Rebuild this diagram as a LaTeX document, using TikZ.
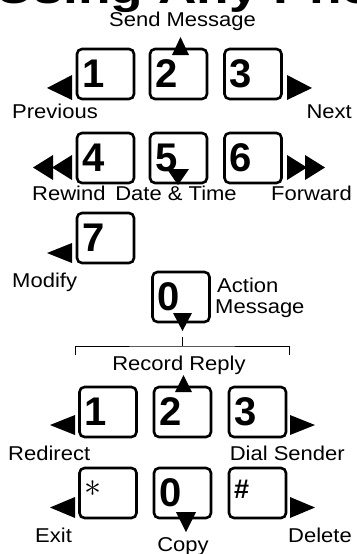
\documentclass[tikz,border=0pt]{standalone}
\usepackage{fontspec}
\setmainfont{Liberation Sans}
\begin{document}
\begin{tikzpicture}[x=1pt,y=-1pt,
	key/.style={draw, line width=2.6pt, rounded corners=5pt, minimum width=57pt, minimum height=50pt,
		inner xsep=5pt, inner ysep=0pt, text width=47pt, align=left, font=\fontsize{40}{40}\selectfont\bfseries},
	lbl/.style={inner sep=0pt, font=\fontsize{20}{22}\selectfont, xscale=1.1},
	tri/.style={fill=black}]
	\useasboundingbox (0,0) rectangle (356,554);
	\clip (0,0) rectangle (356,554);
	
	\node [anchor=base west, inner sep=0pt, font=\fontsize{43}{43}\selectfont\bfseries, xscale=1.24] (title) at (-5,3) {Using Any Phone};
	
	% upper keypad
	\node [key] (k1) at (105.5,74) {1};
	\node [key] (k2) at (178.5,74) {2};
	\node [key] (k3) at (253,74) {3};
	\node [key] (k4) at (105.5,158) {4};
	\node [key] (k5) at (178.5,158) {5};
	\node [key] (k6) at (253,158) {6};
	\node [key] (k7) at (105.5,238) {7};
	\node [key] (k0) at (181,297) {0};
	
	\fill [tri] (47,88) -- (72,75) -- (72,100) -- cycle;
	\fill [tri] (312,88) -- (287,75) -- (287,100) -- cycle;
	\fill [tri] (180.5,37) -- (172,55) -- (189,55) -- cycle;
	\fill [tri] (33,167.5) -- (53,155) -- (53,180) -- cycle;
	\fill [tri] (52,167.5) -- (72,155) -- (72,180) -- cycle;
	\fill [tri] (307,167.5) -- (287,155) -- (287,180) -- cycle;
	\fill [tri] (325,167.5) -- (305,155) -- (305,180) -- cycle;
	\fill [tri] (167,169) -- (189,169) -- (178,185) -- cycle;
	\fill [tri] (47,253) -- (72,243) -- (72,263) -- cycle;
	\fill [tri] (173,313) -- (192,313) -- (182.5,331) -- cycle;
	
	\node [lbl, anchor=base] (send) at (182.5,27) {Send Message};
	\node [lbl, anchor=base west] (prev) at (12,118) {Previous};
	\node [lbl, anchor=base east] (next) at (352,118) {Next};
	\node [lbl, anchor=base west] (rew) at (32,200) {Rewind};
	\node [lbl, anchor=base] (date) at (176,200) {Date \& Time};
	\node [lbl, anchor=base east] (fwd) at (352,200) {Forward};
	\node [lbl, anchor=base west] (mod) at (12,287) {Modify};
	\node [lbl, anchor=base west] (act) at (217,292) {Action};
	\node [lbl, anchor=base west] (actmsg) at (215,313) {Message};
	
	% bracket
	\coordinate (tip) at (182,337);
	\coordinate (mid) at (182,346);
	\coordinate (bl) at (75,355);
	\coordinate (br) at (289,355);
	\draw [line width=1pt] (bl) |- (mid) -| (br);
	\draw [line width=1pt] (tip) -- (mid);
	\node [lbl, anchor=base] (rec) at (179,370) {Record Reply};
	
	% lower keypad
	\node [key] (r1) at (108,412) {1};
	\node [key] (r2) at (182.5,412) {2};
	\node [key] (r3) at (257.5,412) {3};
	\node [key] (rs) at (108,493) {\raisebox{9pt}{\fontsize{10}{10}\selectfont\scalebox{3.4}{$\ast$}}};
	\node [key] (r0) at (182.5,493) {0};
	\node [key] (rh) at (257.5,493) {\raisebox{7pt}{\fontsize{27}{27}\selectfont\#}};
	
	\fill [tri] (183.5,375) -- (175,392) -- (192,392) -- cycle;
	\fill [tri] (50,425) -- (75,415) -- (75,435) -- cycle;
	\fill [tri] (315,425) -- (290,415) -- (290,435) -- cycle;
	\fill [tri] (50,507.5) -- (75,497) -- (75,518) -- cycle;
	\fill [tri] (315,507.5) -- (290,497) -- (290,518) -- cycle;
	\fill [tri] (176,512) -- (196,512) -- (186,532) -- cycle;
	
	\node [lbl, anchor=base west] (redir) at (8,460) {Redirect};
	\node [lbl, anchor=base east] (dial) at (345,460) {Dial Sender};
	\node [lbl, anchor=base west] (exit) at (35,542) {Exit};
	\node [lbl, anchor=base] (copy) at (183,551) {Copy};
	\node [lbl, anchor=base east] (del) at (352,542) {Delete};
\end{tikzpicture}
\end{document}
